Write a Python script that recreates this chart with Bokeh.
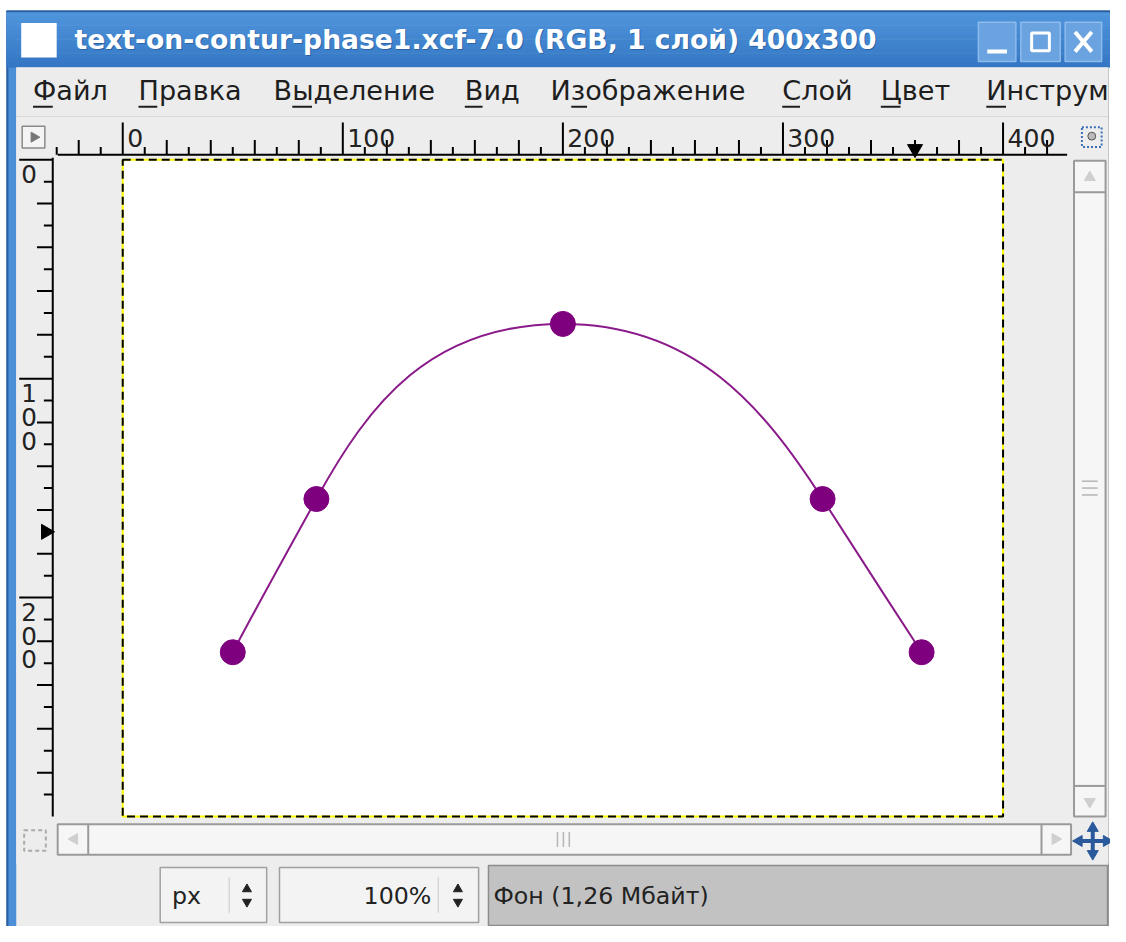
from bokeh.plotting import figure
from bokeh.models import Range1d
from bokeh.core.properties import value
from bokeh.embed import file_html
from bokeh.resources import INLINE
import math

# ---------------- data ----------------
title_text = "text-on-contur-phase1.xcf-7.0 (RGB, 1 слой) 400x300"
menu_items = ["Файл", "Правка", "Выделение", "Вид", "Изображение", "Слой", "Цвет", "Инструм"]
path_x = [50, 88, 200, 318, 363]          # path anchors, image pixels
path_y = [225, 155, 75, 155, 225]
# bezier handles of the four path segments (image pixels)
handle1_x = [62, 112, 260, 325]
handle1_y = [202, 111, 75, 166]
handle2_x = [82, 140, 291, 348]
handle2_y = [166, 75, 113, 202]
image_w, image_h = 400, 300
top_ruler_labels = [0, 100, 200, 300, 400]
left_ruler_labels = [0, 100, 200]
pointer_x, pointer_y = 360, 170
unit_text = "px"
zoom_text = "100%"
status_text = "Фон (1,26 Мбайт)"

# ---------------- layout (reference pixel space) ----------------
W, H = 1126, 942
PW, PH = 1110, 926
S = PW / W
def fs(px):
    return value(f"{px * S:.1f}px")

X0, X1 = 124, 1017      # canvas left/right
Y0, Y1 = 162, 830       # canvas top/bottom
KX = (X1 - X0) / image_w
KY = (Y1 - Y0) / image_h

p = figure(width=PW, height=PH, x_range=Range1d(0, W), y_range=Range1d(H, 0),
           output_backend="svg", toolbar_location=None, min_border=0,
           background_fill_color="white", border_fill_color="white")
p.axis.visible = False
p.grid.visible = False
p.outline_line_color = None
p.extra_x_ranges = {"ix": Range1d((0 - X0) / KX, (W - X0) / KX)}
p.extra_y_ranges = {"iy": Range1d((H - Y0) / KY, (0 - Y0) / KY)}

FONT = value("DejaVu Sans")
GREY = "#ededed"

# window body
p.quad(left=[6], right=[1124], top=[11], bottom=[H], fill_color=GREY, line_color=None)
# left blue frame
p.quad(left=[6], right=[16], top=[11], bottom=[H], fill_color="#4a8fd8", line_color=None)
p.segment(x0=[7], y0=[11], x1=[7], y1=[H], line_color="#2c5f9e", line_width=2)
p.segment(x0=[1124], y0=[68], x1=[1124], y1=[H], line_color="#9a9a9a", line_width=1)

# title bar gradient
tb_top, tb_bot = 11, 68
cols_top = (0x4f, 0x95, 0xdc)
cols_bot = (0x35, 0x77, 0xc4)
n = 12
for i in range(n):
    t = i / (n - 1)
    c = tuple(int(cols_top[k] + (cols_bot[k] - cols_top[k]) * t) for k in range(3))
    y_a = tb_top + (tb_bot - tb_top) * i / n
    y_b = tb_top + (tb_bot - tb_top) * (i + 1) / n
    p.quad(left=[6], right=[1126], top=[y_a], bottom=[y_b + 0.5],
           fill_color="#%02x%02x%02x" % c, line_color=None)
p.segment(x0=[6], y0=[11], x1=[1126], y1=[11], line_color="#2c5f9e", line_width=2)
# icon
p.quad(left=[21], right=[57], top=[23], bottom=[58], fill_color="white", line_color=None)
# title text with shadow
p.text(x=[76], y=[41], text=[title_text], text_font=FONT, text_font_style="bold",
       text_font_size=fs(27), text_color="#1f4f86", text_baseline="middle", text_alpha=0.6)
p.text(x=[75], y=[40], text=[title_text], text_font=FONT, text_font_style="bold",
       text_font_size=fs(27), text_color="white", text_baseline="middle")
# window buttons
for (l, r) in [(992, 1030), (1035, 1075), (1080, 1117)]:
    p.quad(left=[l], right=[r], top=[22], bottom=[62], fill_color="#6aa3e0",
           line_color="#8dbbeb", line_width=1.5)
p.segment(x0=[1001], y0=[52], x1=[1021], y1=[52], line_color="white", line_width=4)
p.quad(left=[1046], right=[1064], top=[33], bottom=[51], fill_color=None,
       line_color="white", line_width=3)
p.segment(x0=[1090, 1090], y0=[32, 52], x1=[1107, 1107], y1=[52, 32],
          line_color="white", line_width=4)

# menu bar
p.quad(left=[16], right=[1124], top=[68], bottom=[118], fill_color="#ececec", line_color=None)
p.segment(x0=[16], y0=[118], x1=[1124], y1=[118], line_color="#d8d8d8", line_width=1)
menu_x = [33, 140, 277, 471, 558, 793, 893, 1000]
p.text(x=menu_x, y=[92] * len(menu_items), text=menu_items, text_font=FONT,
       text_font_size=fs(27.5), text_color="#1e1e1e", text_baseline="middle")
ul = [(33, 53), (140, 159), (296, 316), (471, 489), (579, 595), (793, 811), (893, 913), (1000, 1020)]
p.segment(x0=[a for a, b in ul], y0=[108] * len(ul), x1=[b for a, b in ul], y1=[108] * len(ul),
          line_color="#1e1e1e", line_width=2)

# canvas surround
p.quad(left=[16], right=[1124], top=[119], bottom=[878], fill_color=GREY, line_color=None)

# ---- top ruler ----
p.segment(x0=[58], y0=[157], x1=[1082], y1=[157], line_color="black", line_width=2)
tens = list(range(-30, 430, 10))
minor = [t for t in tens if t % 100 != 0]
short = [t for t in minor if (t // 10) % 2 != 0]
long_ = [t for t in minor if (t // 10) % 2 == 0]
p.segment(x0=short, y0=[149] * len(short), x1=short, y1=[157] * len(short),
          line_color="black", line_width=2, x_range_name="ix")
p.segment(x0=long_, y0=[142] * len(long_), x1=long_, y1=[157] * len(long_),
          line_color="black", line_width=2, x_range_name="ix")
p.segment(x0=top_ruler_labels, y0=[124] * 5, x1=top_ruler_labels, y1=[157] * 5,
          line_color="black", line_width=2, x_range_name="ix")
p.text(x=[v + 2 for v in top_ruler_labels], y=[140] * 5, text=[str(v) for v in top_ruler_labels],
       text_font=FONT, text_font_size=fs(25.5), text_color="#222222", text_baseline="middle",
       x_range_name="ix")
p.scatter(x=[pointer_x], y=[151], marker="inverted_triangle", size=15, color="black",
          x_range_name="ix")
# ruler corner button
p.quad(left=[22], right=[45], top=[128], bottom=[150], fill_color="#f4f4f4",
       line_color="#8a8a8a", line_width=1.5)
p.scatter(x=[34], y=[139], marker="triangle", angle=-math.pi / 2, size=10, color="#777777")
# quick zoom icon
p.quad(left=[1097], right=[1117], top=[129], bottom=[149], fill_color=None,
       line_color="#3d6fb8", line_width=2, line_dash="2 2")
p.circle(x=[1107], y=[138], radius=4, fill_color="#bbbbbb", line_color="#555555")

# ---- left ruler ----
p.segment(x0=[53], y0=[160], x1=[53], y1=[830], line_color="black", line_width=2)
vt = list(range(0, 300, 10))
vminor = [t for t in vt if t % 100 != 0]
vshort = [t for t in vminor if (t // 10) % 2 != 0]
vlong = [t for t in vminor if (t // 10) % 2 == 0]
p.segment(x0=[44] * len(vshort), y0=vshort, x1=[53] * len(vshort), y1=vshort,
          line_color="black", line_width=2, y_range_name="iy")
p.segment(x0=[37] * len(vlong), y0=vlong, x1=[53] * len(vlong), y1=vlong,
          line_color="black", line_width=2, y_range_name="iy")
p.segment(x0=[19] * 3, y0=left_ruler_labels, x1=[53] * 3, y1=left_ruler_labels,
          line_color="black", line_width=2, y_range_name="iy")
dx, dy, dt = [], [], []
for v in left_ruler_labels:
    for k, ch in enumerate(str(v)):
        dx.append(29)
        dy.append(v + (15 + 24 * k) / KY)
        dt.append(ch)
p.text(x=dx, y=dy, text=dt, text_font=FONT, text_font_size=fs(25), text_color="#222222",
       text_baseline="middle", text_align="center", y_range_name="iy")
p.scatter(x=[46], y=[pointer_y], marker="triangle", angle=-math.pi / 2, size=15,
          color="black", y_range_name="iy")

# ---- canvas ----
p.quad(left=[0], right=[image_w], top=[0], bottom=[image_h], fill_color="white",
       line_color="#ffff00", line_width=2, x_range_name="ix", y_range_name="iy")
p.quad(left=[0], right=[image_w], top=[0], bottom=[image_h], fill_color=None,
       line_color="black", line_width=2, line_dash="8 5", x_range_name="ix", y_range_name="iy")

# path: cubic bezier segments between anchors
p.bezier(x0=path_x[:-1], y0=path_y[:-1], x1=path_x[1:], y1=path_y[1:],
         cx0=handle1_x, cy0=handle1_y, cx1=handle2_x, cy1=handle2_y,
         line_color="#8a1a8a", line_width=2, x_range_name="ix", y_range_name="iy")
p.scatter(x=path_x, y=path_y, marker="circle", size=25, color="#7f007f",
          x_range_name="ix", y_range_name="iy")

# ---- vertical scrollbar ----
p.quad(left=[1089], right=[1121], top=[163], bottom=[830], fill_color="#f6f6f6",
       line_color="#9a9a9a", line_width=2)
p.segment(x0=[1089, 1089], y0=[195, 799], x1=[1121, 1121], y1=[195, 799],
          line_color="#9a9a9a", line_width=2)
p.scatter(x=[1105], y=[180], marker="triangle", size=11, color="#cfcfcf")
p.scatter(x=[1105], y=[815], marker="inverted_triangle", size=11, color="#cfcfcf")
p.segment(x0=[1097] * 3, y0=[489, 496, 503], x1=[1113] * 3, y1=[489, 496, 503],
          line_color="#b5b5b5", line_width=1.5)

# ---- horizontal scrollbar ----
p.quad(left=[58], right=[1086], top=[838], bottom=[869], fill_color="#f6f6f6",
       line_color="#9a9a9a", line_width=2)
p.segment(x0=[89, 1056], y0=[838, 838], x1=[89, 1056], y1=[869, 869],
          line_color="#9a9a9a", line_width=2)
p.scatter(x=[75], y=[853], marker="triangle", angle=math.pi / 2, size=11, color="#cfcfcf")
p.scatter(x=[1070], y=[853], marker="triangle", angle=-math.pi / 2, size=11, color="#cfcfcf")
p.segment(x0=[565, 571, 577], y0=[846] * 3, x1=[565, 571, 577], y1=[861] * 3,
          line_color="#b5b5b5", line_width=1.5)
# quick mask icon
p.quad(left=[24], right=[46], top=[844], bottom=[865], fill_color=None,
       line_color="#aaaaaa", line_width=2, line_dash="4 3")
# navigate icon
p.segment(x0=[1092, 1108], y0=[855, 840], x1=[1124, 1108], y1=[855, 870],
          line_color="#2a5a9c", line_width=4)
p.scatter(x=[1094, 1122, 1108, 1108], y=[855, 855, 842, 868], marker="triangle",
          angle=[math.pi / 2, -math.pi / 2, 0, math.pi], size=11, color="#2a5a9c")

# ---- status area ----
p.quad(left=[162], right=[270], top=[882], bottom=[938], fill_color="#f3f3f3",
       line_color="#a0a0a0", line_width=1.5)
p.quad(left=[283], right=[485], top=[882], bottom=[938], fill_color="#f3f3f3",
       line_color="#a0a0a0", line_width=1.5)
p.segment(x0=[232, 444], y0=[892, 892], x1=[232, 444], y1=[928, 928],
          line_color="#c8c8c8", line_width=1)
p.scatter(x=[250, 464], y=[904, 904], marker="triangle", size=9, color="#222222")
p.scatter(x=[250, 464], y=[917, 917], marker="inverted_triangle", size=9, color="#222222")
p.text(x=[174], y=[911], text=[unit_text], text_font=FONT, text_font_size=fs(24),
       text_color="#222222", text_baseline="middle")
p.text(x=[437], y=[911], text=[zoom_text], text_font=FONT, text_font_size=fs(24),
       text_color="#222222", text_baseline="middle", text_align="right")
p.quad(left=[495], right=[1123], top=[880], bottom=[941], fill_color="#c2c2c2",
       line_color="#8c8c8c", line_width=1.5)
p.text(x=[500], y=[911], text=[status_text], text_font=FONT, text_font_size=fs(24),
       text_color="#222222", text_baseline="middle")

open("out.html", "w").write(file_html(p, INLINE))
